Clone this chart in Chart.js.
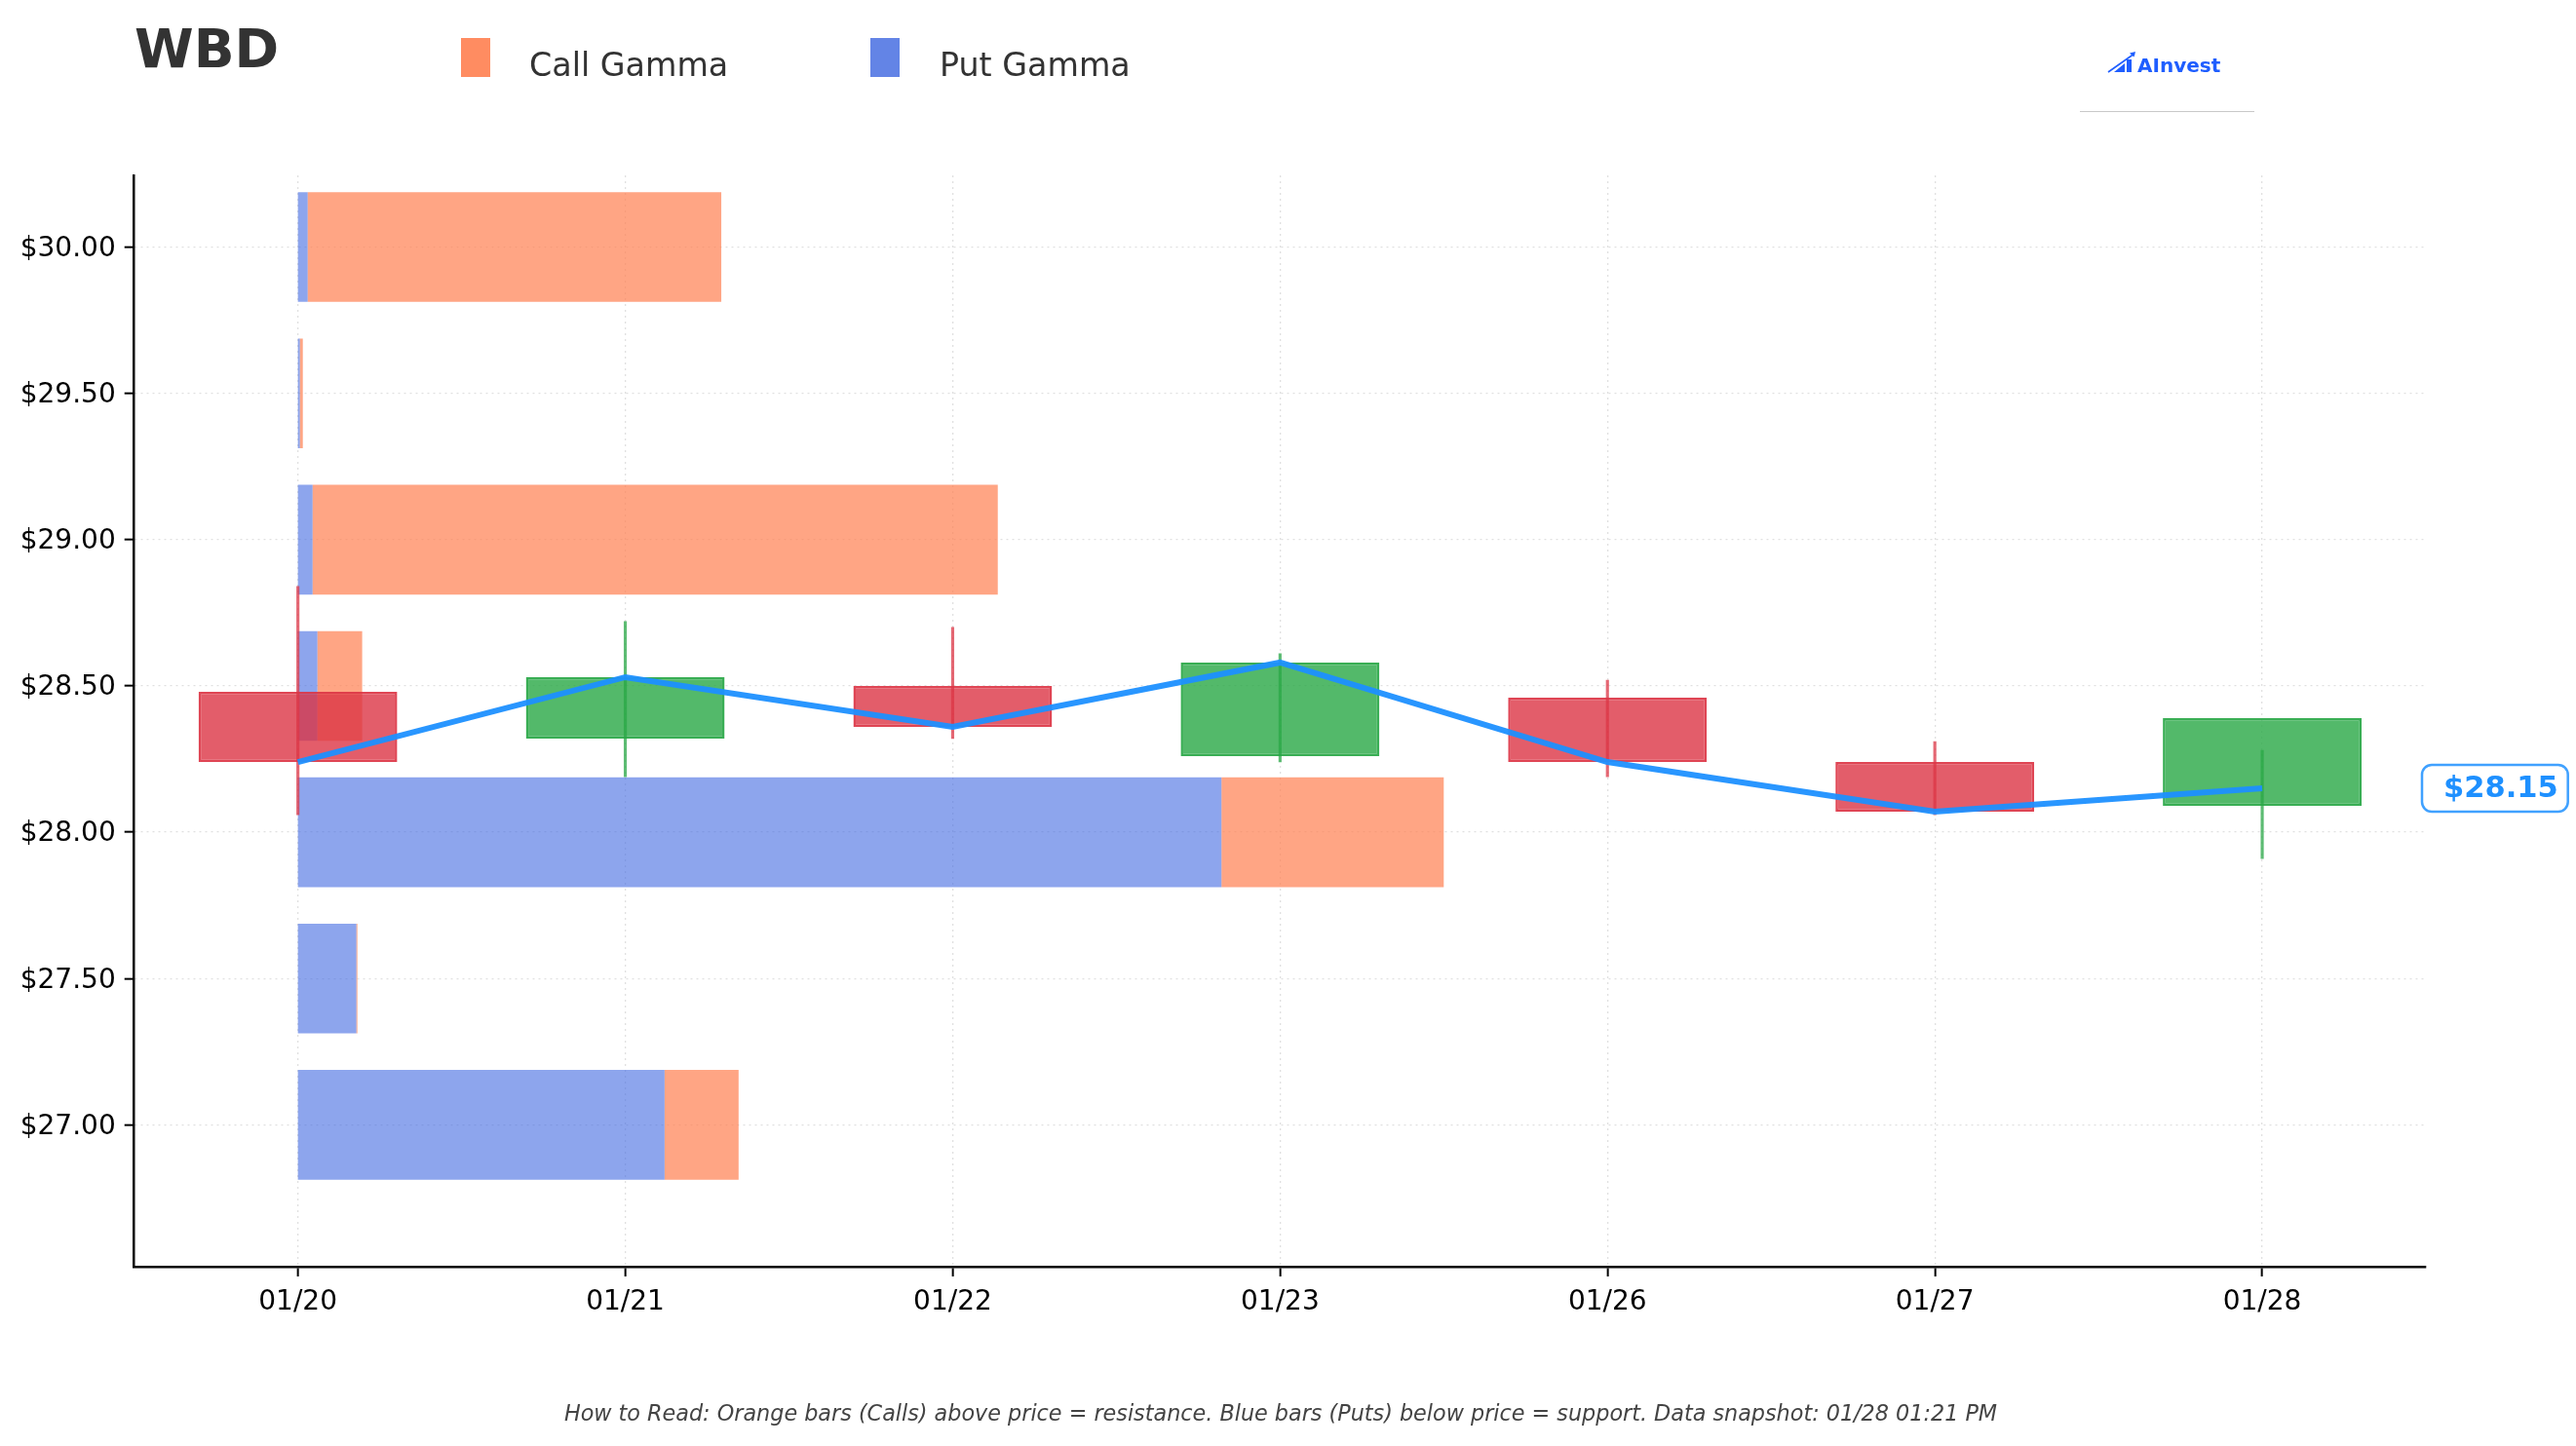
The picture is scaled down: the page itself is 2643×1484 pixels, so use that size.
<!DOCTYPE html>
<html lang="en">

<head>
    <meta charset="UTF-8">
    <title>WBD - Gamma levels</title>
    <script src="https://cdn.jsdelivr.net/npm/chart.js@4.4.1/dist/chart.umd.min.js"></script>
    <style>
        html, body { margin: 0; padding: 0; background: #fff; }
        body { width: 2643px; height: 1484px; position: relative; overflow: hidden; font-family: 'DejaVu Sans', sans-serif; }
        #chart { position: absolute; left: 0; top: 0; }
        .abs { position: absolute; white-space: nowrap; line-height: 1; }
        #title { left: 138px; top: 23px; font-size: 55px; font-weight: bold; color: #333; }
        .swatch { position: absolute; top: 39px; width: 30px; height: 40px; }
        .legend_text { top: 50px; font-size: 33.3px; color: #333; }
        #logo_text { left: 2193px; top: 57px; font-size: 20px; font-weight: bold; color: #1f5eff; }
        #logo_icon { position: absolute; left: 2162px; top: 52px; }
        #logo_line { position: absolute; left: 2134px; top: 114px; width: 179px; height: 0; border-top: 1.5px solid #c8c8c8; }
        #caption { left: 0; width: 2628px; text-align: center; top: 1439px; font-size: 22.3px; font-style: italic; color: #444; }
    </style>
</head>

<body>
    <canvas id="chart" width="2643" height="1484"></canvas>

    <!-- header: ticker, legend, logo -->
    <div class="abs" id="title">WBD</div>
    <div class="swatch" style="left:473px; background:rgba(255,127,80,0.9);"></div>
    <div class="abs legend_text" style="left:543px;">Call Gamma</div>
    <div class="swatch" style="left:893px; background:rgba(65,105,225,0.82);"></div>
    <div class="abs legend_text" style="left:964px;">Put Gamma</div>

    <svg id="logo_icon" width="31" height="23" viewBox="0 0 31 23">
        <line x1="1" y1="22" x2="28" y2="3" stroke="#1f5eff" stroke-width="1.6" />
        <polygon points="29,1 23,2.5 27.5,6.5" fill="#1f5eff" />
        <polygon points="7,22 18,13 18,22" fill="#1f5eff" />
        <rect x="20" y="9" width="5" height="13" fill="#1f5eff" />
    </svg>
    <div class="abs" id="logo_text">AInvest</div>
    <div id="logo_line"></div>

    <div class="abs" id="caption">How to Read: Orange bars (Calls) above price = resistance. Blue bars (Puts) below price = support. Data snapshot: 01/28 01:21 PM</div>

<script>
    // daily candles
    const dates = ['01/20', '01/21', '01/22', '01/23', '01/26', '01/27', '01/28'];
    const openPrice = [28.48, 28.32, 28.50, 28.26, 28.46, 28.24, 28.09];
    const closePrice = [28.24, 28.53, 28.36, 28.58, 28.24, 28.07, 28.39];
    const highPrice = [28.84, 28.72, 28.70, 28.61, 28.52, 28.31, 28.28];
    const lowPrice = [28.06, 28.19, 28.32, 28.24, 28.19, 28.06, 27.91];
    // price line (last point = current price)
    const priceLine = [28.24, 28.53, 28.36, 28.58, 28.24, 28.07, 28.15];

    // gamma by strike (relative units)
    const strikes = [30, 29.5, 29, 28.5, 28, 27.5, 27];
    const putGamma = [0.85, 0.17, 1.28, 1.70, 80.6, 5.10, 32.0];
    const callGamma = [36.1, 0.26, 59.8, 3.91, 19.4, 0.09, 6.46];

    // y axis
    const yTicks = [27, 27.5, 28, 28.5, 29, 29.5, 30];
    const yMin = 26.515;
    const yMax = 30.245;

    const RED = 'rgba(220,53,69,0.8)';
    const RED_EDGE = 'rgba(220,53,69,0.92)';
    const GREEN = 'rgba(40,167,69,0.8)';
    const GREEN_EDGE = 'rgba(40,167,69,0.92)';

    function isUp(i) {
        return closePrice[i] >= openPrice[i];
    }

    // the biggest gamma bar reaches half of the x range (3.5 of 7 day slots)
    const totals = putGamma.map((p, i) => p + callGamma[i]);
    const gammaUnit = Math.max(...totals) / 3.5;

    function roundRect(ctx, x, y, w, h, r) {
        ctx.beginPath();
        ctx.moveTo(x + r, y);
        ctx.arcTo(x + w, y, x + w, y + h, r);
        ctx.arcTo(x + w, y + h, x, y + h, r);
        ctx.arcTo(x, y + h, x, y, r);
        ctx.arcTo(x, y, x + w, y, r);
        ctx.closePath();
    }

    // box with the current price at the right edge
    const priceTag = {
        id: 'priceTag',
        afterDatasetsDraw(chart) {
            const ctx = chart.ctx;
            const last = priceLine[priceLine.length - 1];
            const y = chart.scales.y.getPixelForValue(last);
            const text = '$' + last.toFixed(2);
            ctx.save();
            ctx.font = 'bold 30.5px "DejaVu Sans"';
            const w = ctx.measureText(text).width;
            const x0 = chart.chartArea.right - 4;
            roundRect(ctx, x0, y - 24, w + 32, 48, 10);
            ctx.fillStyle = '#fff';
            ctx.fill();
            ctx.lineWidth = 2.5;
            ctx.strokeStyle = 'rgba(30,144,255,0.85)';
            ctx.stroke();
            ctx.fillStyle = '#1e90ff';
            ctx.textBaseline = 'middle';
            ctx.fillText(text, x0 + 22, y + 1);
            ctx.restore();
        }
    };

    const tickFont = { family: 'DejaVu Sans', size: 28 };
    const gridStyle = { color: 'rgba(0,0,0,0.12)', lineWidth: 1.3, tickColor: '#000', tickWidth: 2, tickLength: 10, offset: false };

    const ctx = document.getElementById('chart').getContext('2d');
    const myChart = new Chart(ctx, {
        type: 'bar',
        data: {
            labels: dates,
            datasets: [
                {
                    type: 'line',
                    label: 'Price',
                    data: priceLine,
                    xAxisID: 'x',
                    yAxisID: 'y',
                    borderColor: 'rgba(30,144,255,0.95)',
                    borderWidth: 6,
                    pointRadius: 0,
                    tension: 0,
                    order: 0,
                },
                {
                    label: 'Wick',
                    data: dates.map((d, i) => [lowPrice[i], highPrice[i]]),
                    xAxisID: 'x',
                    yAxisID: 'y',
                    backgroundColor: c => isUp(c.dataIndex) ? 'rgba(40,167,69,0.75)' : 'rgba(220,53,69,0.75)',
                    borderWidth: 0,
                    barThickness: 2.5,
                    grouped: false,
                    order: 1,
                },
                {
                    label: 'Body',
                    data: dates.map((d, i) => [openPrice[i], closePrice[i]]),
                    xAxisID: 'x',
                    yAxisID: 'y',
                    backgroundColor: c => isUp(c.dataIndex) ? GREEN : RED,
                    borderColor: c => isUp(c.dataIndex) ? GREEN_EDGE : RED_EDGE,
                    borderWidth: 2.5,
                    borderSkipped: false,
                    categoryPercentage: 1,
                    barPercentage: 0.607,
                    grouped: false,
                    order: 2,
                },
                {
                    label: 'Put Gamma',
                    indexAxis: 'y',
                    data: strikes.map((s, i) => ({ y: s, x: putGamma[i] })),
                    xAxisID: 'xg',
                    yAxisID: 'yg',
                    backgroundColor: 'rgba(65,105,225,0.6)',
                    borderWidth: 0,
                    categoryPercentage: 1,
                    barPercentage: 0.75,
                    grouped: false,
                    order: 3,
                },
                {
                    label: 'Call Gamma',
                    indexAxis: 'y',
                    data: strikes.map((s, i) => ({ y: s, x: callGamma[i] })),
                    xAxisID: 'xg',
                    yAxisID: 'yg',
                    backgroundColor: 'rgba(255,127,80,0.7)',
                    borderWidth: 0,
                    categoryPercentage: 1,
                    barPercentage: 0.75,
                    grouped: false,
                    order: 4,
                },
            ],
        },
        options: {
            responsive: false,
            animation: false,
            layout: {
                padding: { left: 0, top: 180, right: 154, bottom: 84 }
            },
            plugins: {
                legend: { display: false },
                tooltip: { enabled: false },
            },
            scales: {
                x: {
                    type: 'category',
                    axis: 'x',
                    position: 'bottom',
                    offset: true,
                    grid: gridStyle,
                    border: { display: true, color: '#000', width: 2.5, dash: [2, 4] },
                    ticks: { font: tickFont, color: '#000', padding: 10, maxRotation: 0, autoSkip: false },
                    afterFit: s => { s.height = 100; },
                },
                y: {
                    type: 'linear',
                    axis: 'y',
                    position: 'left',
                    min: yMin,
                    max: yMax,
                    offset: false,
                    grid: gridStyle,
                    border: { display: true, color: '#000', width: 2.5, dash: [2, 4] },
                    afterBuildTicks: s => { s.ticks = yTicks.map(v => ({ value: v })); },
                    ticks: {
                        font: tickFont,
                        color: '#000',
                        padding: 9,
                        labelOffset: 2,
                        callback: v => '$' + Number(v).toFixed(2),
                    },
                    afterFit: s => { s.width = 137.7; },
                },
                xg: {
                    type: 'linear',
                    axis: 'x',
                    display: false,
                    stacked: true,
                    offset: false,
                    min: -0.5 * gammaUnit,
                    max: (dates.length - 0.5) * gammaUnit,
                },
                yg: {
                    type: 'linear',
                    axis: 'y',
                    display: false,
                    offset: false,
                    grid: { offset: false },
                    min: yMin,
                    max: yMax,
                    afterBuildTicks: s => { s.ticks = yTicks.map(v => ({ value: v })); },
                },
            },
        },
        plugins: [priceTag],
    });
</script>
</body>

</html>
